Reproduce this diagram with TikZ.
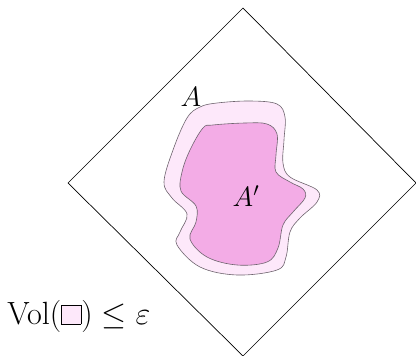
\documentclass[tikz,border=0pt]{standalone}
\usepackage{amsmath,amssymb}
\definecolor{outerpink}{RGB}{253,232,250}
\definecolor{innerpink}{RGB}{243,172,230}
\definecolor{blobline}{RGB}{110,100,110}
\begin{document}
\begin{tikzpicture}[x=1pt,y=-1pt,
  blob/.style={draw=blobline,line width=0.6pt},
  lbl/.style={inner sep=0pt,font=\fontsize{20}{24}\selectfont,scale=1.35,transform shape}]
\useasboundingbox (0,0) rectangle (416,356);
\coordinate (T) at (243,8);
\coordinate (L) at (68,183);
\coordinate (R) at (416,183);
\coordinate (B) at (243,356);
\draw[line width=0.7pt] (T) -- (R) -- (B) -- (L) -- cycle;
\draw[blob,fill=outerpink] plot[smooth cycle,tension=0.6] coordinates {
 (200,107) (217,103) (250,101) (277,104) (285,117) (284,140) (283,163) (290,177)
 (317,190) (317,202) (300,218) (290,232) (286,257) (277,270) (237,275) (200,267)
 (177,245) (180,232) (187,214) (172,198) (164,182) (173,150) (187,118)};
\draw[blob,fill=innerpink] plot[smooth cycle,tension=0.6] coordinates {
 (203,128) (213,125) (245,123) (267,124) (277,134) (276,155) (276,172) (290,182)
 (303,189) (305,198) (293,212) (283,225) (278,248) (267,262) (237,265) (207,257)
 (190,239) (196,222) (196,206) (181,191) (182,172) (190,150)};
\node[lbl] (a) at (191,97) {$A$};
\node[lbl] (ap) at (246,196) {$A'$};
\node[inner sep=0pt,anchor=base west,font=\fontsize{20}{24}\selectfont,scale=1.55,transform shape] (vol) at (7,324)
 {$\mathrm{Vol}(\setlength{\fboxsep}{0pt}\setlength{\fboxrule}{0.5pt}\fcolorbox{black}{outerpink}{\rule{0pt}{0.6em}\hspace{0.6em}})\leq\varepsilon$};
\end{tikzpicture}
\end{document}
